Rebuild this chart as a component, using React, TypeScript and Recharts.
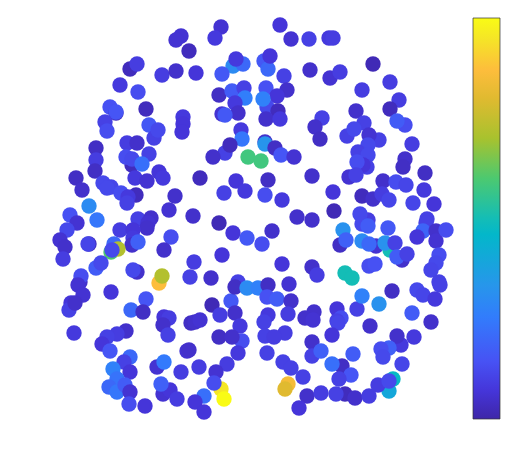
import React from "react";
import { ScatterChart, Scatter, XAxis, YAxis, ReferenceArea } from "recharts";

// position of each electrode (in picture units) and its normalised value
const nodes: [number, number, number][] = [
[221,27,.06],[215,38,.08],[181,36,.06],[176,40,.06],[189,51,.03],[233,66,.3],[243,64,.2],[236,59,.08],
[130,69,.03],[137,64,.09],[162,75,.09],[176,71,.05],[196,73,.07],[222,74,.16],[120,85,.08],[138,92,.13],
[219,95,.04],[232,91,.17],[244,88,.1],[245,98,.26],[235,103,.08],[238,113,.05],[222,114,.06],[225,115,.16],
[110,107,.14],[116,113,.03],[116,112,.15],[146,109,.03],[105,122,.1],[107,131,.13],[183,117,.08],[183,124,.07],
[182,132,.07],[149,125,.16],[154,138,.1],[158,130,.12],[241,130,.08],[242,139,.24],[225,153,.1],[230,145,.03],[213,157,.05],
[96,148,.04],[127,143,.09],[137,143,.05],
[280,25,.07],[291,39,.06],[309,39,.1],[329,38,.08],[333,38,.09],[264,61,.16],[268,69,.2],[270,56,.07],[284,76,.1],
[310,70,.05],[330,78,.06],[340,72,.09],[373,64,.02],[390,82,.09],[362,90,.09],[399,100,.09],[390,109,.03],
[266,88,.14],[287,90,.05],[277,96,.07],[267,107,.12],[263,99,.27],[278,111,.03],[266,119,.05],[280,119,.08],
[322,118,.1],[315,127,.05],[320,139,.04],[356,111,.05],[405,125,.13],[397,121,.17],[347,136,.1],[364,123,.1],[354,129,.12],
[379,140,.1],[369,135,.06],[368,145,.12],[412,144,.09],[265,142,.05],[265,144,.33],[275,148,.04],
[96,160,.09],[95,171,.04],[132,165,.03],[126,157,.13],[132,159,.12],[149,154,.1],[142,164,.22],[159,172,.07],[163,178,.08],
[135,178,.08],[147,181,.06],[76,178,.04],[82,190,.05],[103,183,.12],[111,187,.11],[107,188,.12],[121,193,.13],[136,195,.03],
[128,197,.08],[127,203,.1],[175,196,.05],[169,210,.06],[200,178,.03],[236,181,.07],[224,193,.1],[245,191,.08],[193,216,.05],
[219,223,.02],[233,233,.07],[247,238,.16],[89,206,.3],[97,220,.24],[70,215,.14],[77,223,.06],[67,230,.12],[60,240,.06],
[65,247,.05],[63,259,.09],[89,244,.03],[88,244,.11],[138,219,.1],[151,218,.05],[148,223,.06],[147,228,.05],[120,230,.09],
[133,230,.07],[133,238,.08],[132,245,.05],[138,242,.18],[171,237,.13],[164,250,.05],[114,244,.2],[111,252,.6],[118,249,.72],
[112,250,.12],[96,268,.17],[101,263,.12],[194,262,.09],[222,255,.07],[137,272,.05],[133,270,.12],[159,283,.87],[162,276,.72],
[80,282,.05],[81,276,.13],[190,277,.1],[211,278,.05],[238,282,.1],[248,157,.58],[261,161,.58],
[281,155,.15],[294,157,.06],[312,176,.05],[268,180,.04],[265,195,.13],[282,200,.08],[333,192,.07],[334,211,.02],[297,217,.05],
[312,220,.05],[272,231,.05],[262,244,.13],[282,264,.07],[312,267,.05],[317,275,.09],[345,273,.5],[352,278,.5],
[358,152,.1],[368,155,.12],[367,167,.1],[363,165,.07],[357,162,.13],[349,177,.06],[356,175,.1],[405,159,.05],[403,167,.04],[425,173,.04],
[383,181,.05],[396,182,.13],[406,185,.11],[424,190,.08],[362,196,.03],[373,199,.05],[382,194,.09],[389,200,.11],[413,203,.11],
[434,204,.07],[368,220,.09],[360,214,.12],[362,224,.12],[368,226,.17],[343,230,.32],[388,228,.16],[427,219,.1],[426,223,.1],
[423,231,.19],[417,237,.07],[436,231,.05],[436,241,.06],[446,230,.13],[340,245,.04],[346,240,.18],[376,246,.06],[362,241,.3],[369,244,.2],
[390,250,.5],[385,243,.32],[395,243,.1],[402,260,.05],[397,257,.17],[407,254,.1],[369,266,.13],[375,264,.14],[439,255,.13],
[436,263,.12],[431,270,.11],[439,282,.1],
[78,285,.06],[83,295,.06],[71,303,.07],[69,310,.1],[75,303,.05],[111,292,.07],[146,299,.15],[131,310,.2],[143,312,.04],[74,333,.08],
[164,317,.07],[169,318,.09],[163,325,.05],[168,335,.1],[191,323,.04],[195,322,.05],[200,320,.06],[212,305,.02],[220,315,.09],
[231,301,.16],[235,287,.04],[247,288,.3],[258,288,.27],[235,313,.05],[240,326,.08],[219,337,.04],[242,341,.13],[232,337,.05],
[238,353,.08],[126,331,.05],[117,334,.09],[107,337,.1],[102,344,.07],[110,351,.15],[130,357,.2],[124,362,.1],[113,369,.27],
[130,372,.07],[187,351,.06],[189,350,.05],[157,367,.06],[164,362,.25],[181,372,.09],[199,367,.09],[227,364,.09],[216,372,.06],
[221,389,.95],[224,399,1],[214,383,.13],[117,379,.23],[109,387,.2],[117,392,.24],[125,385,.17],[130,392,.06],[129,404,.13],[145,406,.07],
[163,394,.06],[170,390,.07],[161,384,.18],[177,399,.09],[204,396,.22],[195,402,.07],[204,412,.07],
[268,285,.04],[289,284,.06],[267,297,.14],[277,299,.17],[291,301,.05],[288,314,.09],[268,315,.08],[264,322,.1],[285,333,.09],
[265,336,.1],[274,337,.09],[267,353,.1],[314,312,.05],[305,318,.05],[313,320,.06],[337,309,.07],[357,309,.1],[341,318,.13],
[337,321,.1],[338,323,.11],[332,335,.07],[370,326,.05],[362,296,.27],[379,304,.32],[392,291,.04],[417,290,.12],[423,295,.11],
[435,299,.08],[440,285,.1],[412,313,.17],[431,322,.05],[414,337,.08],[401,345,.08],[397,336,.05],[389,348,.18],[381,349,.13],
[383,357,.12],[402,364,.11],[312,342,.05],[312,356,.1],[321,351,.18],[353,354,.17],[283,362,.1],[291,368,.1],[303,377,.1],
[342,366,.04],[332,364,.22],[351,375,.15],[339,379,.1],[288,384,.85],[285,389,.8],[307,396,.05],[321,393,.09],[345,394,.03],
[336,394,.1],[355,398,.05],[369,396,.09],[389,391,.4],[393,379,.47],[378,385,.09],[389,381,.12],[299,408,.07],
];

const points = nodes.map(([x, y, v]) => ({ x, y, v }));

const stopPositions = [0, .07, .143, .254, .333, .46, .5, .6, .7, .8, .87, .95, 1];
const stopColors = ["#3E26A8","#4535D9","#4752F4","#327CFC","#2796EB","#03B7CA","#14BDB6","#4CC970","#A8C22E","#E0BA30","#FDBD3C","#F5E626","#F9FB15"];

function hexToRgb(h: string) {
  return [parseInt(h.slice(1, 3), 16), parseInt(h.slice(3, 5), 16), parseInt(h.slice(5, 7), 16)];
}
function parula(v: number) {
  let i = 0;
  while (i < stopPositions.length - 2 && v > stopPositions[i + 1]) i++;
  const t = (v - stopPositions[i]) / (stopPositions[i + 1] - stopPositions[i]);
  const a = hexToRgb(stopColors[i]);
  const b = hexToRgb(stopColors[i + 1]);
  return `rgb(${a.map((c, k) => Math.round(c + (b[k] - c) * t)).join(",")})`;
}

const Dot = (p: any) => <circle cx={p.cx} cy={p.cy} r={7.7} fill={parula(p.payload.v)} />;

export default function App() {
  return (
    <div style={{ position: "absolute", left: 0, top: 0, background: "#fff" }}>
      <ScatterChart width={532} height={469} margin={{ top: 0, right: 0, bottom: 0, left: 0 }}>
        <defs>
          <linearGradient id="parulaBar" x1="0" y1="1" x2="0" y2="0">
            {stopPositions.map((o, i) => (
              <stop key={i} offset={o} stopColor={stopColors[i]} />
            ))}
          </linearGradient>
        </defs>
        <XAxis type="number" dataKey="x" domain={[0, 532]} hide />
        <YAxis type="number" dataKey="y" domain={[0, 469]} reversed hide />
        <ReferenceArea x1={473} x2={500} y1={18} y2={419} fill="url(#parulaBar)" fillOpacity={1} stroke="#333" strokeOpacity={0.7} strokeWidth={1} />
        <Scatter data={points} isAnimationActive={false} shape={Dot} />
      </ScatterChart>
    </div>
  );
}
